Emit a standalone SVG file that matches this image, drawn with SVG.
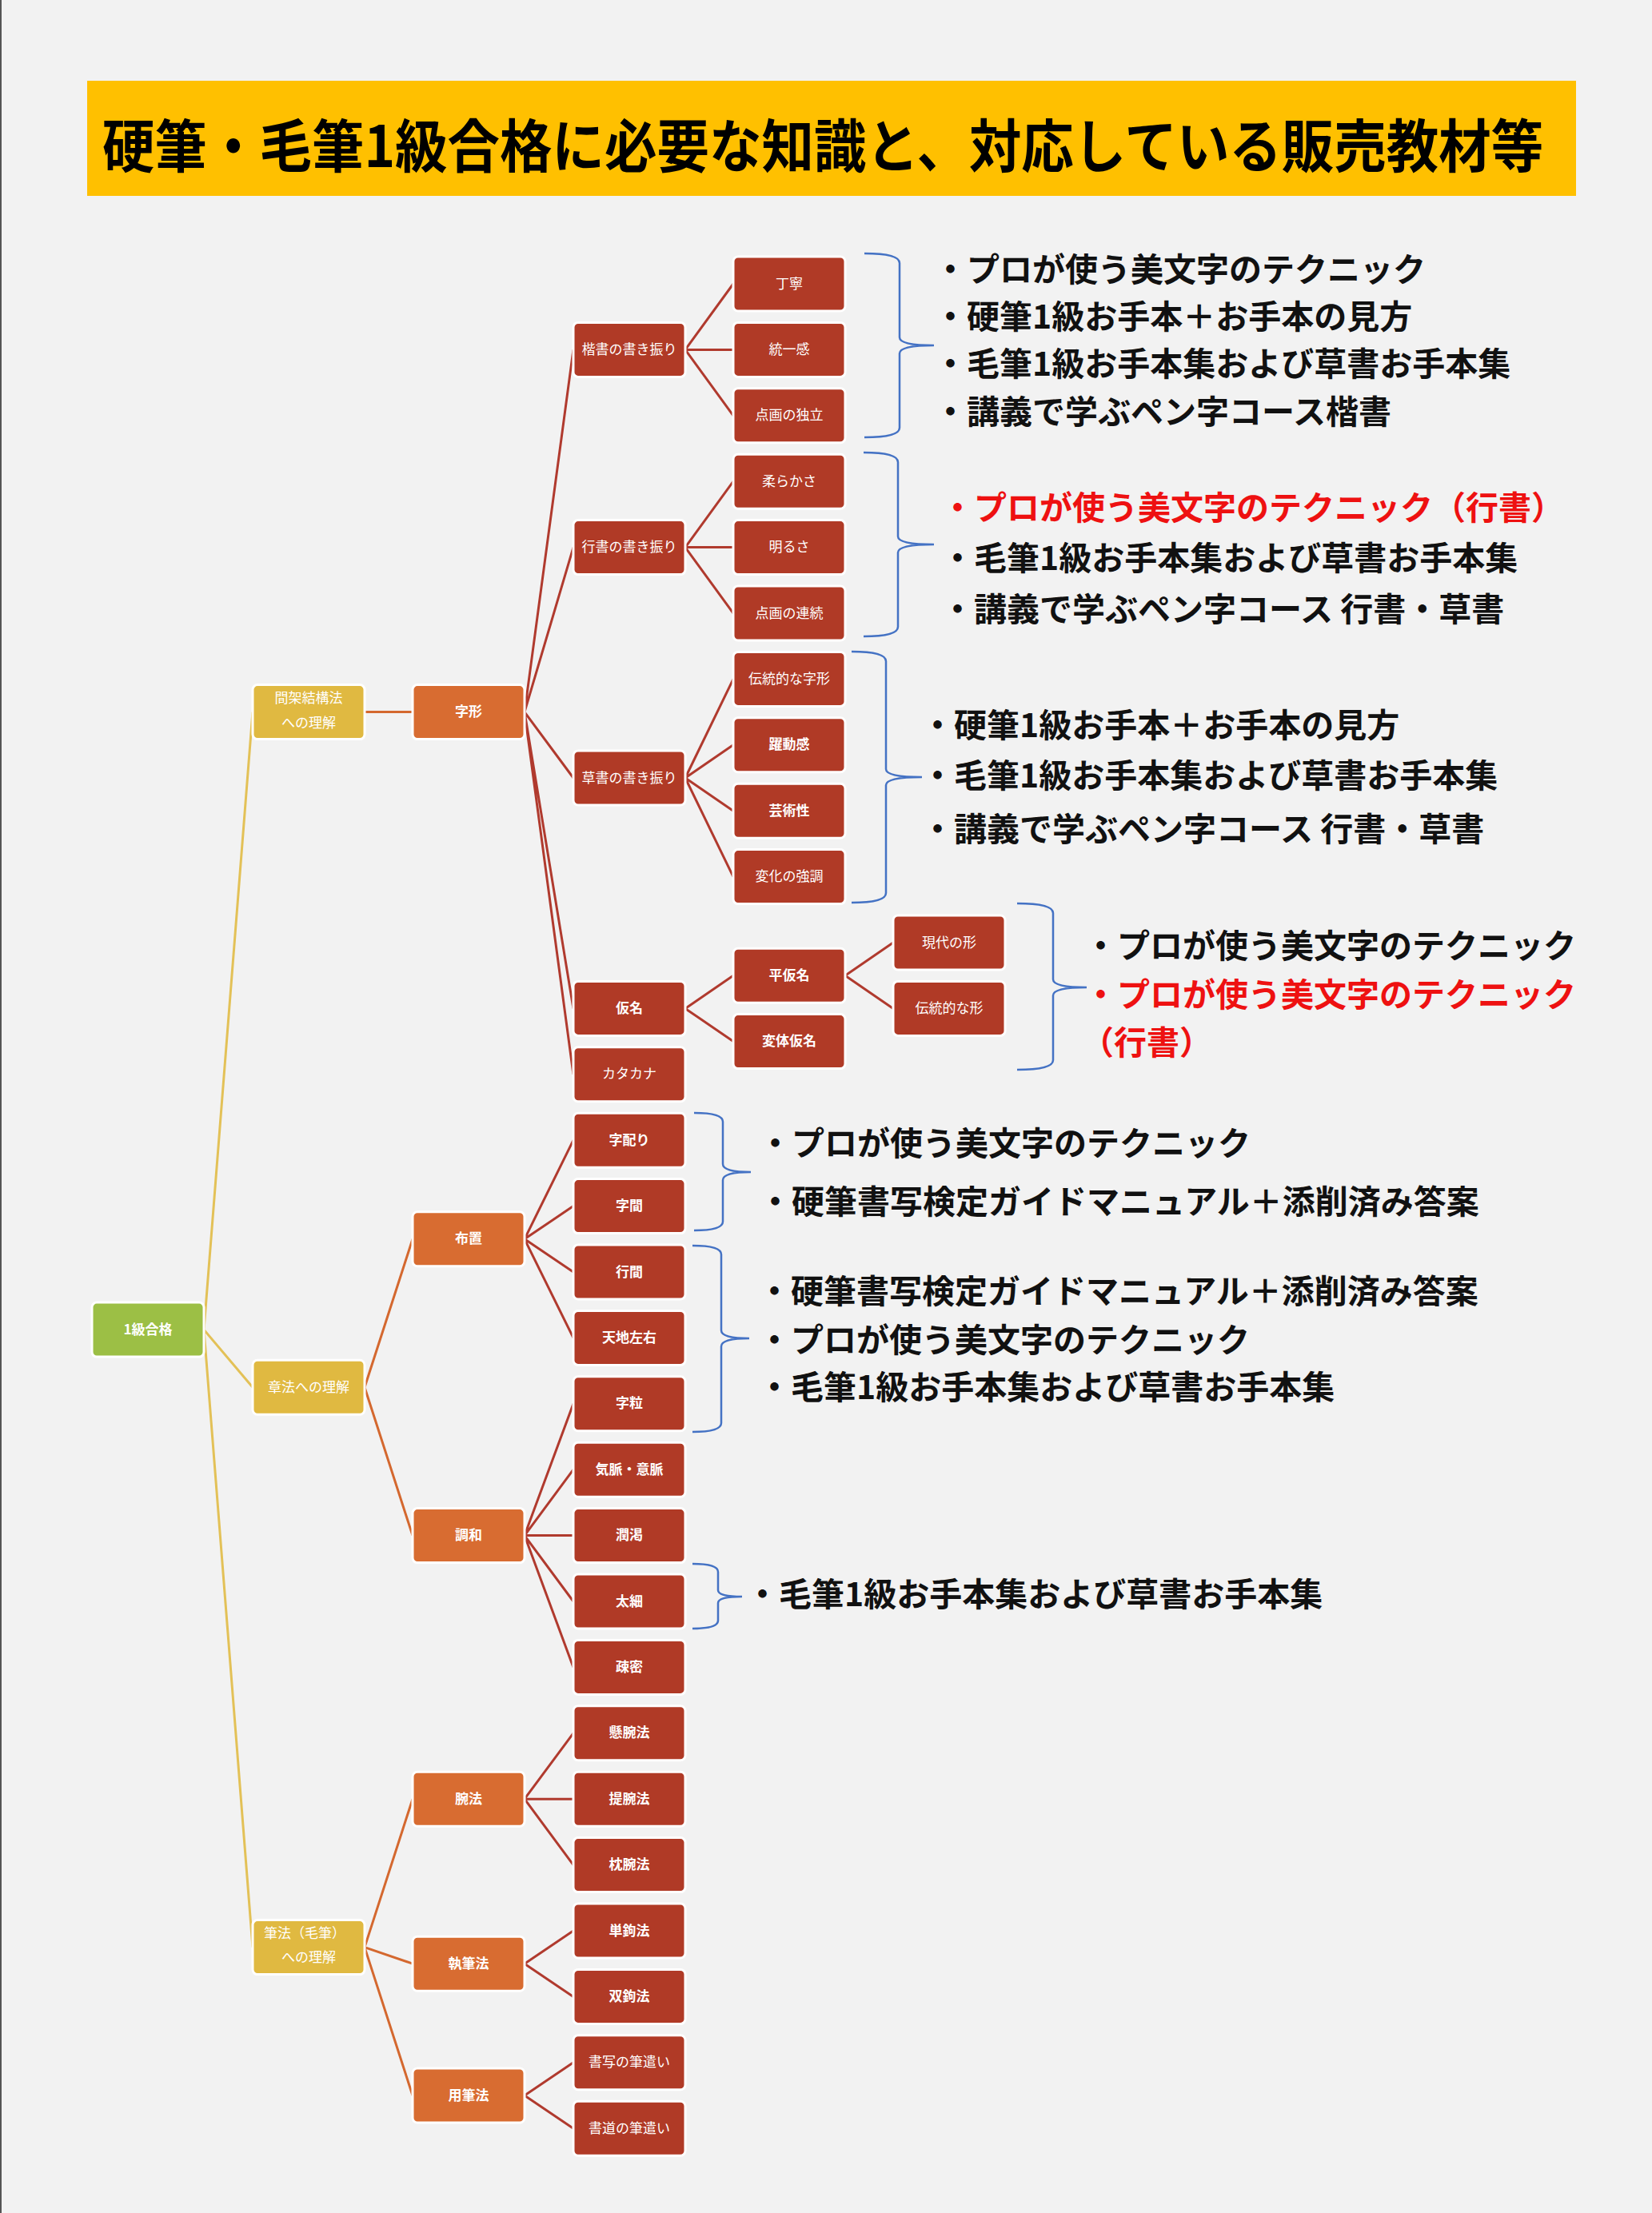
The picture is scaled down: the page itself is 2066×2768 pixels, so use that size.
<svg xmlns="http://www.w3.org/2000/svg" width="2066" height="2768" viewBox="0 0 2066 2768">
<style>
.bg{fill:#F2F2F2}
.n rect{stroke:#FFFFFF;stroke-width:3}
.root rect{fill:#9CBF45}
.l1 rect{fill:#E0B941}
.l2 rect{fill:#D86C31}
.l3 rect{fill:#B03A26}
.n text{fill:#FFFFFF;font-family:"Noto Sans CJK JP","Noto Sans CJK SC",sans-serif;font-size:17px;text-anchor:middle;dominant-baseline:central;transform:translateY(-2px)}
.b text{font-weight:bold}
.cy{stroke:#E3C157;stroke-width:3;fill:none}
.co{stroke:#D4682F;stroke-width:3;fill:none}
.cr{stroke:#B03A2E;stroke-width:3;fill:none}
.br{stroke:#4472C4;stroke-width:2.5;fill:none}
.li{font-family:"Noto Sans CJK JP","Noto Sans CJK SC",sans-serif;font-size:41px;font-weight:bold;fill:#111111;dominant-baseline:central}
.red{fill:#EE1111}
</style>
<rect class="bg" x="0" y="0" width="2066" height="2768"/>
<line x1="1" y1="0" x2="1" y2="2768" stroke="#555555" stroke-width="2"/>
<g id="title">
<rect x="109" y="101" width="1862" height="144" fill="#FFC000"/>
<text transform="translate(128,178) scale(1,1.1)" x="0" y="0" font-family="'Noto Sans CJK JP','Noto Sans CJK SC',sans-serif" font-size="65.5" font-weight="bold" fill="#000000" dominant-baseline="central">硬筆・毛筆1級合格に必要な知識と、対応している販売教材等</text>
</g>
<g id="connectors">
<path class="cy" d="M255 1663.1L316 890.6M255 1663.1L316 1735.2M255 1663.1L316 2435.6"/>
<path class="co" d="M456 890.6L516 890.6M456 1735.2L516 1549.8M456 1735.2L516 1920.6M456 2435.6L516 2250.2M456 2435.6L516 2456.2M456 2435.6L516 2621"/>
<path class="cr" d="M656 890.6L717 437.4M656 890.6L717 684.6M656 890.6L717 973M656 890.6L717 1261.4M656 890.6L717 1343.8
M656 1549.8L717 1426.2M656 1549.8L717 1508.6M656 1549.8L717 1591M656 1549.8L717 1673.4
M656 1920.6L717 1755.8M656 1920.6L717 1838.2M656 1920.6L717 1920.6M656 1920.6L717 2003M656 1920.6L717 2085.4
M656 2250.2L717 2167.8M656 2250.2L717 2250.2M656 2250.2L717 2332.6
M656 2456.2L717 2415M656 2456.2L717 2497.4
M656 2621L717 2579.8M656 2621L717 2662.2
M857 437.4L917 355M857 437.4L917 437.4M857 437.4L917 519.8
M857 684.6L917 602.2M857 684.6L917 684.6M857 684.6L917 767
M857 973L917 849.4M857 973L917 931.8M857 973L917 1014.2M857 973L917 1096.6
M857 1261.4L917 1220.2M857 1261.4L917 1302.6
M1057 1220.2L1117 1179M1057 1220.2L1117 1261.4"/>
</g>
<g id="braces">
<path class="br" d="M1081 317Q1125 317 1125 329L1125 422Q1125 432 1168 432Q1125 432 1125 442L1125 535Q1125 547 1081 547"/>
<path class="br" d="M1080 566Q1123 566 1123 578L1123 671Q1123 681 1168 681Q1123 681 1123 691L1123 784Q1123 796 1080 796"/>
<path class="br" d="M1065 815Q1108 815 1108 827L1108 962Q1108 972 1153 972Q1108 972 1108 982L1108 1117Q1108 1129 1065 1129"/>
<path class="br" d="M1272 1130Q1317 1130 1317 1142L1317 1225Q1317 1235 1359 1235Q1317 1235 1317 1245L1317 1326Q1317 1338 1272 1338"/>
<path class="br" d="M868 1392Q904 1392 904 1403L904 1456Q904 1466 939 1466Q904 1466 904 1476L904 1528Q904 1539 868 1539"/>
<path class="br" d="M866 1558Q902 1558 902 1569L902 1664Q902 1674 937 1674Q902 1674 902 1684L902 1780Q902 1791 866 1791"/>
<path class="br" d="M866 1956Q898 1956 898 1966L898 1989Q898 1997 928 1997Q898 1997 898 2005L898 2027Q898 2037 866 2037"/>
</g>
<g id="root" class="n root b"><rect x="115" y="1629.1" width="140" height="68" rx="6"/><text x="185" y="1663.1">1級合格</text></g>
<g id="kanka" class="n l1"><rect x="316" y="856.6" width="140" height="68" rx="6"/><text x="386" y="873">間架結構法</text><text x="386" y="904">への理解</text></g>
<g id="shoho" class="n l1"><rect x="316" y="1701.2" width="140" height="68" rx="6"/><text x="386" y="1735.2">章法への理解</text></g>
<g id="hippo" class="n l1"><rect x="316" y="2401.6" width="140" height="68" rx="6"/><text x="381" y="2418">筆法（毛筆）</text><text x="386" y="2448">への理解</text></g>
<g id="jikei" class="n l2 b"><rect x="516" y="856.6" width="140" height="68" rx="6"/><text x="586" y="890.6">字形</text></g>
<g id="fuchi" class="n l2 b"><rect x="516" y="1515.8" width="140" height="68" rx="6"/><text x="586" y="1549.8">布置</text></g>
<g id="chowa" class="n l2 b"><rect x="516" y="1886.6" width="140" height="68" rx="6"/><text x="586" y="1920.6">調和</text></g>
<g id="wanpo" class="n l2 b"><rect x="516" y="2216.2" width="140" height="68" rx="6"/><text x="586" y="2250.2">腕法</text></g>
<g id="shippitsu" class="n l2 b"><rect x="516" y="2422.2" width="140" height="68" rx="6"/><text x="586" y="2456.2">執筆法</text></g>
<g id="yohitsu" class="n l2 b"><rect x="516" y="2587" width="140" height="68" rx="6"/><text x="586" y="2621">用筆法</text></g>
<g id="kaisho" class="n l3"><rect x="717" y="403.4" width="140" height="68" rx="6"/><text x="787" y="437.4">楷書の書き振り</text></g>
<g id="gyosho" class="n l3"><rect x="717" y="650.6" width="140" height="68" rx="6"/><text x="787" y="684.6">行書の書き振り</text></g>
<g id="sosho" class="n l3"><rect x="717" y="939" width="140" height="68" rx="6"/><text x="787" y="973">草書の書き振り</text></g>
<g id="kana" class="n l3 b"><rect x="717" y="1227.4" width="140" height="68" rx="6"/><text x="787" y="1261.4">仮名</text></g>
<g id="katakana" class="n l3"><rect x="717" y="1309.8" width="140" height="68" rx="6"/><text x="787" y="1343.8">カタカナ</text></g>
<g id="jikubari" class="n l3 b"><rect x="717" y="1392.2" width="140" height="68" rx="6"/><text x="787" y="1426.2">字配り</text></g>
<g id="jikan" class="n l3 b"><rect x="717" y="1474.6" width="140" height="68" rx="6"/><text x="787" y="1508.6">字間</text></g>
<g id="gyokan" class="n l3 b"><rect x="717" y="1557" width="140" height="68" rx="6"/><text x="787" y="1591">行間</text></g>
<g id="tenchi" class="n l3 b"><rect x="717" y="1639.4" width="140" height="68" rx="6"/><text x="787" y="1673.4">天地左右</text></g>
<g id="jitsubu" class="n l3 b"><rect x="717" y="1721.8" width="140" height="68" rx="6"/><text x="787" y="1755.8">字粒</text></g>
<g id="kimyaku" class="n l3 b"><rect x="717" y="1804.2" width="140" height="68" rx="6"/><text x="787" y="1838.2">気脈・意脈</text></g>
<g id="junkatsu" class="n l3 b"><rect x="717" y="1886.6" width="140" height="68" rx="6"/><text x="787" y="1920.6">潤渇</text></g>
<g id="taisai" class="n l3 b"><rect x="717" y="1969" width="140" height="68" rx="6"/><text x="787" y="2003">太細</text></g>
<g id="somitsu" class="n l3 b"><rect x="717" y="2051.4" width="140" height="68" rx="6"/><text x="787" y="2085.4">疎密</text></g>
<g id="kenwan" class="n l3 b"><rect x="717" y="2133.8" width="140" height="68" rx="6"/><text x="787" y="2167.8">懸腕法</text></g>
<g id="teiwan" class="n l3 b"><rect x="717" y="2216.2" width="140" height="68" rx="6"/><text x="787" y="2250.2">提腕法</text></g>
<g id="chinwan" class="n l3 b"><rect x="717" y="2298.6" width="140" height="68" rx="6"/><text x="787" y="2332.6">枕腕法</text></g>
<g id="tanko" class="n l3 b"><rect x="717" y="2381" width="140" height="68" rx="6"/><text x="787" y="2415">単鉤法</text></g>
<g id="soko" class="n l3 b"><rect x="717" y="2463.4" width="140" height="68" rx="6"/><text x="787" y="2497.4">双鉤法</text></g>
<g id="shosha" class="n l3"><rect x="717" y="2545.8" width="140" height="68" rx="6"/><text x="787" y="2579.8">書写の筆遣い</text></g>
<g id="shodo" class="n l3"><rect x="717" y="2628.2" width="140" height="68" rx="6"/><text x="787" y="2662.2">書道の筆遣い</text></g>
<g id="teinei" class="n l3"><rect x="917" y="321" width="140" height="68" rx="6"/><text x="987" y="355">丁寧</text></g>
<g id="toitsu" class="n l3"><rect x="917" y="403.4" width="140" height="68" rx="6"/><text x="987" y="437.4">統一感</text></g>
<g id="dokuritsu" class="n l3"><rect x="917" y="485.8" width="140" height="68" rx="6"/><text x="987" y="519.8">点画の独立</text></g>
<g id="yawaraka" class="n l3"><rect x="917" y="568.2" width="140" height="68" rx="6"/><text x="987" y="602.2">柔らかさ</text></g>
<g id="akarusa" class="n l3"><rect x="917" y="650.6" width="140" height="68" rx="6"/><text x="987" y="684.6">明るさ</text></g>
<g id="renzoku" class="n l3"><rect x="917" y="733" width="140" height="68" rx="6"/><text x="987" y="767">点画の連続</text></g>
<g id="dentoji" class="n l3"><rect x="917" y="815.4" width="140" height="68" rx="6"/><text x="987" y="849.4">伝統的な字形</text></g>
<g id="yakudo" class="n l3 b"><rect x="917" y="897.8" width="140" height="68" rx="6"/><text x="987" y="931.8">躍動感</text></g>
<g id="geijutsu" class="n l3 b"><rect x="917" y="980.2" width="140" height="68" rx="6"/><text x="987" y="1014.2">芸術性</text></g>
<g id="henka" class="n l3"><rect x="917" y="1062.6" width="140" height="68" rx="6"/><text x="987" y="1096.6">変化の強調</text></g>
<g id="hiragana" class="n l3 b"><rect x="917" y="1186.2" width="140" height="68" rx="6"/><text x="987" y="1220.2">平仮名</text></g>
<g id="hentai" class="n l3 b"><rect x="917" y="1268.6" width="140" height="68" rx="6"/><text x="987" y="1302.6">変体仮名</text></g>
<g id="gendai" class="n l3"><rect x="1117" y="1145" width="140" height="68" rx="6"/><text x="1187" y="1179">現代の形</text></g>
<g id="dentokata" class="n l3"><rect x="1117" y="1227.4" width="140" height="68" rx="6"/><text x="1187" y="1261.4">伝統的な形</text></g>
<g id="lists">
<text class="li" x="1168" y="334">・プロが使う美文字のテクニック</text>
<text class="li" x="1168" y="393">・硬筆1級お手本＋お手本の見方</text>
<text class="li" x="1168" y="452">・毛筆1級お手本集および草書お手本集</text>
<text class="li" x="1168" y="512">・講義で学ぶペン字コース楷書</text>
<text class="li red" x="1177" y="632">・プロが使う美文字のテクニック（行書）</text>
<text class="li" x="1177" y="695">・毛筆1級お手本集および草書お手本集</text>
<text class="li" x="1177" y="759">・講義で学ぶペン字コース 行書・草書</text>
<text class="li" x="1152" y="904">・硬筆1級お手本＋お手本の見方</text>
<text class="li" x="1152" y="967">・毛筆1級お手本集および草書お手本集</text>
<text class="li" x="1152" y="1034">・講義で学ぶペン字コース 行書・草書</text>
<text class="li" x="1356" y="1180">・プロが使う美文字のテクニック</text>
<text class="li red" x="1356" y="1241">・プロが使う美文字のテクニック<tspan x="1352" y="1301">（行書）</tspan></text>
<text class="li" x="949" y="1427">・プロが使う美文字のテクニック</text>
<text class="li" x="949" y="1500">・硬筆書写検定ガイドマニュアル＋添削済み答案</text>
<text class="li" x="948" y="1612">・硬筆書写検定ガイドマニュアル＋添削済み答案</text>
<text class="li" x="948" y="1673">・プロが使う美文字のテクニック</text>
<text class="li" x="948" y="1732">・毛筆1級お手本集および草書お手本集</text>
<text class="li" x="933" y="1991">・毛筆1級お手本集および草書お手本集</text>
</g>
</svg>
